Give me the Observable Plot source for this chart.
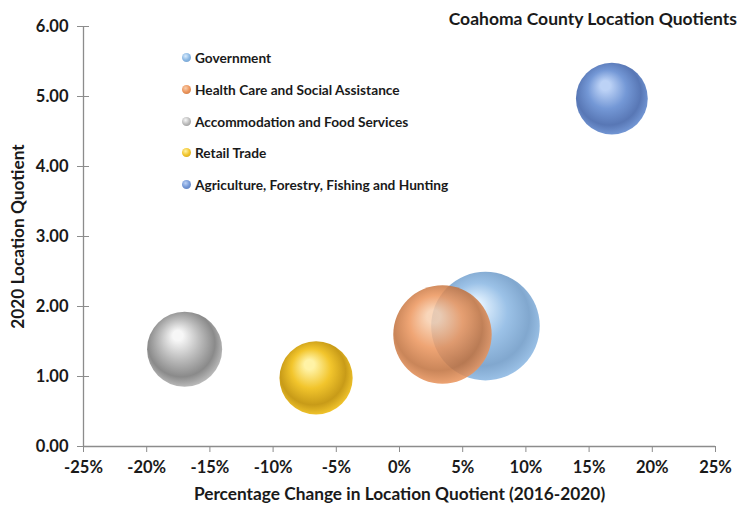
<!DOCTYPE html>
<html>
<head>
<meta charset="utf-8">
<script src="https://cdn.jsdelivr.net/npm/d3@7"></script>
<script src="https://cdn.jsdelivr.net/npm/@observablehq/plot@0.6"></script>
<style>
  html, body { margin: 0; padding: 0; background: #fff; }
  #wrap { position: relative; width: 739px; height: 508px; font-family: Lato, "Open Sans", sans-serif; font-weight: 700; color: #1a1a1a; }
  #title { position: absolute; right: 2px; top: 8px; font-size: 17.5px; font-weight: 700; white-space: nowrap; }
  #legend { position: absolute; left: 182px; top: 42px; font-size: 13.7px; }
  .item { display: flex; align-items: center; height: 31.7px; white-space: nowrap; }
  .sw { width: 9px; height: 9px; border-radius: 50%; margin-right: 4px; }
  svg { position: absolute; left: 0; top: 0; }
</style>
</head>
<body>
<div id="wrap">
  <div id="title">Coahoma County Location Quotients</div>
  <div id="legend"></div>
</div>
<script>
// ---- data ----
const sectors = [
  "Government",
  "Health Care and Social Assistance",
  "Accommodation and Food Services",
  "Retail Trade",
  "Agriculture, Forestry, Fishing and Hunting"
];
const pctChange = [0.068, 0.034, -0.170, -0.066, 0.168];
const lq2020 = [1.72, 1.60, 1.39, 0.98, 4.97];
const bubbleSize = [2970, 2440, 1420, 1350, 1300];
const xTicks = [-0.25, -0.20, -0.15, -0.10, -0.05, 0, 0.05, 0.10, 0.15, 0.20, 0.25];
const yTicks = [0, 1, 2, 3, 4, 5, 6];

// colours: [highlight, base, dark]
const palette = [
  ["#d9ecfd", "#8ab7e3", "#6b98c6"],
  ["#f8cfae", "#ec955c", "#c0703c"],
  ["#f7f7f7", "#bcbcbc", "#8a8a8a"],
  ["#fff3a6", "#f2c52c", "#c89b18"],
  ["#bcd2f6", "#7498d6", "#5877b5"]
];
const opacities = [0.85, 0.85, 1, 1, 1];

const data = sectors.map((s, i) => ({sector: s, x: pctChange[i], y: lq2020[i], size: bubbleSize[i], idx: i}));

const marks = [
  Plot.ruleY([0], {stroke: "#8c8c8c", strokeWidth: 1.3}),
  Plot.ruleX([-0.25], {stroke: "#8c8c8c", strokeWidth: 1.3}),
  Plot.axisX({ticks: xTicks, tickSize: 6, tickPadding: 9, stroke: "#8c8c8c", tickFormat: d => Math.round(d * 100) + "%", fontSize: 16.5, fill: "#1a1a1a", label: null}),
  Plot.axisY({ticks: yTicks, tickSize: 6, tickPadding: 9, stroke: "#8c8c8c", tickFormat: d => d.toFixed(2), fontSize: 16.5, fill: "#1a1a1a", label: null}),
  Plot.axisY({ticks: yTicks.slice(1), tickSize: 6, dx: 6, stroke: "#8c8c8c", tickFormat: () => "", label: null})
];
data.forEach((d, i) => {
  marks.push(Plot.dot([d], {x: "x", y: "y", r: "size", fill: `url(#sph${i})`, fillOpacity: opacities[i], stroke: "none"}));
});

const plot = Plot.plot({
  width: 739,
  height: 508,
  marginLeft: 83,
  marginRight: 24,
  marginTop: 26,
  marginBottom: 62,
  style: {fontFamily: "Lato, 'Open Sans', sans-serif", fontWeight: 700, background: "transparent", overflow: "visible"},
  x: {domain: [-0.25, 0.25], label: null},
  y: {domain: [0, 6], label: null},
  r: {domain: [0, 2970], range: [0, 54.3]},
  marks: [
    ...marks,
    Plot.text(["Percentage Change in Location Quotient (2016-2020)"], {frameAnchor: "bottom", textAnchor: "middle", dy: 53, fontSize: 17.3, fontWeight: 700, fill: "#1a1a1a"}),
    Plot.text(["2020 Location Quotient"], {frameAnchor: "left", textAnchor: "middle", dx: -65, rotate: -90, fontSize: 17.3, fontWeight: 700, fill: "#1a1a1a"})
  ]
});

// gradients for the sphere look
const svg = d3.select(plot);
const defs = svg.insert("defs", ":first-child");
palette.forEach((c, i) => {
  const g = defs.append("radialGradient").attr("id", `sph${i}`)
    .attr("cx", "47%").attr("cy", "45%").attr("r", "56%")
    .attr("fx", "40%").attr("fy", "30%");
  g.append("stop").attr("offset", "0%").attr("stop-color", c[0]);
  g.append("stop").attr("offset", "12%").attr("stop-color", c[0]);
  g.append("stop").attr("offset", "48%").attr("stop-color", c[1]);
  g.append("stop").attr("offset", "80%").attr("stop-color", c[2]);
  g.append("stop").attr("offset", "100%").attr("stop-color", c[1]);
});

document.getElementById("wrap").prepend(plot);

// legend
const legend = d3.select("#legend");
sectors.forEach((s, i) => {
  const it = legend.append("div").attr("class", "item");
  it.append("div").attr("class", "sw")
    .style("background", `radial-gradient(circle at 40% 35%, ${palette[i][0]} 0%, ${palette[i][1]} 50%, ${palette[i][2]} 100%)`);
  it.append("span").text(s);
});
</script>
</body>
</html>
